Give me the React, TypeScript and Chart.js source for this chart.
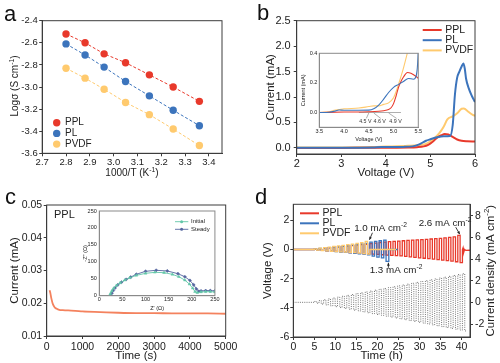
import React, { useEffect, useRef } from 'react';
import { Chart, registerables } from 'chart.js';
Chart.register(...registerables);

const FONT = "'Liberation Sans', Arial, sans-serif";
const INK = '#222';
const AXIS = '#3c3c3c';
const INSET_AXIS = '#8a8a8a';
const RED = '#E8392B';
const BLUE = '#3C74BC';
const YELLOW = '#FFCA6E';
const SERIES = ['PPL', 'PL', 'PVDF'];
const SERIES_COLORS = [RED, BLUE, YELLOW];

// ---------- panel a ----------
const aInvT = [2.80, 2.88, 2.96, 3.05, 3.15, 3.25, 3.36];
const aPPL = [-2.52, -2.60, -2.70, -2.78, -2.89, -3.00, -3.13];
const aPL = [-2.61, -2.71, -2.82, -2.95, -3.08, -3.21, -3.35];
const aPVDF = [-2.83, -2.92, -3.02, -3.14, -3.25, -3.38, -3.53];
const aXTicks = [2.7, 2.8, 2.9, 3.0, 3.1, 3.2, 3.3, 3.4];
const aYTicks = [-3.6, -3.4, -3.2, -3.0, -2.8, -2.6, -2.4];

// ---------- panel b ----------
const bPPL = [[2, 0.0], [3, 0.0], [3.5, 0.002], [4.0, 0.004], [4.5, 0.008], [4.7, 0.015], [4.85, 0.03], [4.95, 0.06], [5.05, 0.12], [5.15, 0.2], [5.25, 0.25], [5.32, 0.275], [5.4, 0.262], [5.5, 0.215], [5.6, 0.165], [5.7, 0.14], [5.82, 0.13], [6.0, 0.125]];
const bPL = [[2, 0.004], [3, 0.004], [3.7, 0.008], [3.9, 0.018], [4.4, 0.02], [4.6, 0.03], [4.75, 0.07], [4.9, 0.14], [5.0, 0.17], [5.15, 0.21], [5.3, 0.23], [5.44, 0.235], [5.5, 0.45], [5.55, 1.05], [5.6, 1.38], [5.65, 1.5], [5.7, 1.6], [5.74, 1.66], [5.77, 1.56], [5.8, 1.36], [5.86, 1.17], [5.93, 1.02], [6.0, 0.9]];
const bPVDF = [[2, 0.01], [3, 0.01], [3.5, 0.012], [3.8, 0.02], [4.0, 0.025], [4.5, 0.04], [4.8, 0.06], [4.9, 0.08], [5.0, 0.13], [5.1, 0.2], [5.2, 0.29], [5.3, 0.42], [5.38, 0.56], [5.5, 0.62], [5.6, 0.68], [5.7, 0.77], [5.75, 0.775], [5.85, 0.71], [5.95, 0.65], [6.0, 0.63]];
const bXTicks = [2, 3, 4, 5, 6];
const bYTicks = [0, 0.5, 1.0, 1.5, 2.0, 2.5];
// inset (zoom of onset region)
const biPPL = [[3.5, 0], [4.0, 0.003], [4.5, 0.005], [4.7, 0.008], [4.8, 0.012], [4.9, 0.02], [4.95, 0.032], [5.0, 0.06], [5.05, 0.11], [5.1, 0.17], [5.15, 0.21], [5.2, 0.24], [5.28, 0.27], [5.35, 0.265], [5.45, 0.245], [5.5, 0.23]];
const biPL = [[3.5, 0], [3.7, 0.002], [3.8, 0.008], [3.9, 0.017], [4.0, 0.015], [4.3, 0.015], [4.5, 0.016], [4.6, 0.025], [4.7, 0.05], [4.8, 0.09], [4.9, 0.135], [5.0, 0.17], [5.1, 0.19], [5.2, 0.21], [5.3, 0.23], [5.4, 0.225], [5.45, 0.24], [5.48, 0.3], [5.5, 0.42]];
const biPVDF = [[3.5, 0], [3.7, 0.005], [3.8, 0.015], [3.9, 0.02], [4.0, 0.025], [4.3, 0.03], [4.5, 0.04], [4.6, 0.045], [4.7, 0.045], [4.8, 0.055], [4.9, 0.065], [5.0, 0.1], [5.05, 0.14], [5.1, 0.19], [5.2, 0.3], [5.3, 0.43]];
const biZeroLine = [[4.3, 0], [5.15, 0]];
const biOnsetV = [4.5, 4.6, 4.9];
const biOnsetLabels = ['4.5 V', '4.6 V', '4.9 V'];
const biXTicks = [3.5, 4.0, 4.5, 5.0, 5.5];
const biYTicks = [0.0, 0.2, 0.4];

// ---------- panel c ----------
const cTime = [80, 100, 130, 170, 220, 280, 350, 450, 600, 800, 1000, 1500, 2000, 2500, 3000, 3500, 4000, 4500, 5000];
const cCurrent = [0.0240, 0.0232, 0.0215, 0.0198, 0.0188, 0.0183, 0.0180, 0.0179, 0.0178, 0.0177, 0.0175, 0.0173, 0.0171, 0.0170, 0.0170, 0.0169, 0.0169, 0.0169, 0.0168];
const cXTicks = [0, 1000, 2000, 3000, 4000, 5000];
const cYTicks = [0.01, 0.02, 0.03, 0.04, 0.05];
const ciInitial = [[22, 0], [24, 6], [27, 14], [31, 22], [37, 30], [45, 38], [55, 46], [66, 53], [80, 60], [100, 66], [120, 69], [140, 68], [158, 63], [172, 56], [185, 46], [195, 34], [202, 22], [207, 12], [212, 9], [220, 11], [230, 12], [240, 12], [250, 11]];
const ciSteady = [[25, 0], [27, 7], [30, 15], [34, 23], [40, 32], [48, 40], [58, 48], [68, 55], [80, 63], [100, 72], [123, 75], [147, 73], [170, 65], [185, 56], [196, 45], [204, 32], [210, 20], [215, 13], [220, 14], [230, 15], [240, 15], [250, 14]];
const ciTicks = [0, 50, 100, 150, 200, 250];

// ---------- panel d ----------
const dCycleStart = [5.0, 6.1, 7.2, 8.3, 9.4, 10.5, 11.6, 12.7, 13.8, 14.9, 16.0, 17.1, 18.2, 19.3, 20.4, 21.5, 22.6, 23.7, 24.8, 25.9, 27.0, 28.1, 29.2, 30.3, 31.4, 32.5, 33.6, 34.7, 35.8, 36.9, 38.0, 39.1, 40.2];
const dCurrentStep = [0.08, 0.16, 0.24, 0.32, 0.40, 0.48, 0.56, 0.64, 0.72, 0.80, 0.88, 0.96, 1.04, 1.12, 1.20, 1.28, 1.36, 1.44, 1.52, 1.60, 1.68, 1.76, 1.84, 1.92, 2.00, 2.08, 2.16, 2.24, 2.32, 2.40, 2.48, 2.56, 2.64];
const dPPLTop = [0.03, 0.06, 0.09, 0.12, 0.15, 0.18, 0.21, 0.24, 0.27, 0.30, 0.33, 0.36, 0.40, 0.44, 0.48, 0.51, 0.54, 0.56, 0.58, 0.60, 0.62, 0.64, 0.66, 0.68, 0.70, 0.72, 0.74, 0.77, 0.80, 0.83, 0.86, 0.97];
const dPPLBottom = [-0.03, -0.06, -0.09, -0.11, -0.13, -0.15, -0.18, -0.21, -0.24, -0.26, -0.28, -0.30, -0.32, -0.34, -0.36, -0.38, -0.40, -0.42, -0.44, -0.47, -0.50, -0.54, -0.57, -0.60, -0.63, -0.66, -0.70, -0.73, -0.76, -0.80, -0.84, -0.90];
const dPPLTail = [[40.2, 0.0], [40.35, 0.12], [40.5, -0.2], [40.7, 0.0], [41.0, -0.06], [42, -0.05]];
const dPLTop = [0.04, 0.07, 0.10, 0.13, 0.16, 0.19, 0.22, 0.26, 0.30, 0.34, 0.38, 0.42, 0.50, 0.56, 0.60, 0.64];
const dPLBottom = [-0.03, -0.06, -0.09, -0.12, -0.14, -0.17, -0.20, -0.23, -0.26, -0.29, -0.32, -0.36, -0.45, -0.52, -0.58, -0.82];
const dPLTail = [[22.7, 0.0], [24.8, 0.0]];
const dPVDFTop = [0.05, 0.09, 0.13, 0.17, 0.21, 0.25, 0.29, 0.33, 0.37, 0.42, 0.47, 0.56];
const dPVDFBottom = [-0.04, -0.07, -0.10, -0.12, -0.14, -0.16, -0.18, -0.20, -0.22, -0.25, -0.28, -0.32];
const dPVDFTail = [[18.2, 0.0], [24.4, 0.0]];
const dLead = [[0, 0], [5.0, 0]];
const dHalfCycle = 0.55;
const dXTicks = [0, 5, 10, 15, 20, 25, 30, 35, 40];
const dYTicks = [-6, -4, -2, 0, 2];
const dY1Ticks = [-2, 0, 2, 4, 6, 8];

// ---------- helpers ----------
const pts = (arr: number[][]) => arr.map(([x, y]) => ({ x, y }));

function squareWave(starts: number[], tops: number[], bottoms: number[], half: number, lead: number[][], tail: number[][]) {
  const out = pts(lead);
  for (let k = 0; k < tops.length; k++) {
    const t = starts[k];
    out.push({ x: t, y: tops[k] }, { x: t + half, y: tops[k] }, { x: t + half, y: bottoms[k] }, { x: t + 2 * half, y: bottoms[k] });
  }
  return out.concat(pts(tail));
}

type AxisOpt = {
  position: 'left' | 'right' | 'bottom';
  min: number; max: number; ticks: number[]; fmt: (v: number) => string;
  size: number; font: number; tl: number; pad: number; color?: string;
  title?: string; titleFont?: number; titlePad?: number;
};
function axis(o: AxisOpt) {
  const col = o.color || AXIS;
  return {
    type: 'linear', position: o.position, min: o.min, max: o.max,
    afterBuildTicks: (s: any) => { s.ticks = o.ticks.map((v) => ({ value: v })); },
    afterFit: (s: any) => { if (o.position === 'bottom') s.height = o.size; else s.width = o.size; },
    grid: { display: true, drawOnChartArea: false, drawTicks: o.tl > 0, tickLength: o.tl, color: col, lineWidth: 1 },
    border: { display: true, color: col, width: 1 },
    ticks: { padding: o.pad, autoSkip: false, maxRotation: 0, color: INK, font: { family: FONT, size: o.font }, callback: (v: any) => o.fmt(Number(v)) },
    title: o.title ? { display: true, text: o.title, color: INK, font: { family: FONT, size: o.titleFont }, padding: { top: o.titlePad, bottom: o.titlePad } } : { display: false },
  };
}

function frame(color: string) {
  return {
    id: 'frame',
    afterDraw(chart: any) {
      const { ctx, chartArea: { left, top, right, bottom } } = chart;
      ctx.save(); ctx.strokeStyle = color; ctx.lineWidth = 1;
      ctx.strokeRect(left, top, right - left, bottom - top); ctx.restore();
    },
  };
}

type Part = { t: string; sup?: boolean };
function drawRich(ctx: CanvasRenderingContext2D, parts: Part[], x: number, y: number, size: number, rot = 0, align = 'center', color = INK) {
  ctx.save(); ctx.translate(x, y); ctx.rotate(rot); ctx.textBaseline = 'middle'; ctx.textAlign = 'left'; ctx.fillStyle = color;
  let w = 0;
  for (const p of parts) { ctx.font = `${p.sup ? size * 0.68 : size}px ${FONT}`; w += ctx.measureText(p.t).width; }
  let cx = align === 'center' ? -w / 2 : align === 'left' ? 0 : -w;
  for (const p of parts) {
    ctx.font = `${p.sup ? size * 0.68 : size}px ${FONT}`;
    ctx.fillText(p.t, cx, p.sup ? -size * 0.33 : 0);
    cx += ctx.measureText(p.t).width;
  }
  ctx.restore();
}

function text(ctx: CanvasRenderingContext2D, s: string, x: number, y: number, size: number, align: CanvasTextAlign = 'left', base: CanvasTextBaseline = 'middle', color = INK) {
  ctx.save(); ctx.font = `${size}px ${FONT}`; ctx.fillStyle = color; ctx.textAlign = align; ctx.textBaseline = base; ctx.fillText(s, x, y); ctx.restore();
}

function arrow(ctx: CanvasRenderingContext2D, x1: number, y1: number, x2: number, y2: number, color = INK, head = 3.2, lw = 0.9) {
  ctx.save(); ctx.strokeStyle = color; ctx.fillStyle = color; ctx.lineWidth = lw;
  ctx.beginPath(); ctx.moveTo(x1, y1); ctx.lineTo(x2, y2); ctx.stroke();
  const a = Math.atan2(y2 - y1, x2 - x1);
  ctx.beginPath(); ctx.moveTo(x2, y2);
  ctx.lineTo(x2 - head * Math.cos(a - 0.45), y2 - head * Math.sin(a - 0.45));
  ctx.lineTo(x2 - head * Math.cos(a + 0.45), y2 - head * Math.sin(a + 0.45));
  ctx.closePath(); ctx.fill(); ctx.restore();
}

function lineLegend(ctx: CanvasRenderingContext2D, x: number, y0: number, dy: number, len: number, size: number, lw: number) {
  SERIES.forEach((name, i) => {
    const y = y0 + i * dy;
    ctx.save(); ctx.strokeStyle = SERIES_COLORS[i]; ctx.lineWidth = lw;
    ctx.beginPath(); ctx.moveTo(x, y); ctx.lineTo(x + len, y); ctx.stroke(); ctx.restore();
    text(ctx, name, x + len + 3.5, y, size);
  });
}

const baseOptions = (padding: any) => ({
  responsive: false, maintainAspectRatio: false, animation: false, devicePixelRatio: 1,
  layout: { padding },
  plugins: { legend: { display: false }, tooltip: { enabled: false } },
  elements: { point: { radius: 0 } },
});

// ---------- chart configs ----------
function makeA(): any {
  const sets = [aPPL, aPL, aPVDF];
  return {
    type: 'line',
    data: {
      datasets: sets.map((ys, i) => ({
        label: SERIES[i], data: aInvT.map((x, j) => ({ x, y: ys[j] })),
        borderColor: SERIES_COLORS[i], borderWidth: 1, borderDash: [3, 2],
        pointRadius: 3.7, pointBackgroundColor: SERIES_COLORS[i], pointBorderWidth: 0,
      })),
    },
    options: {
      ...baseOptions({ left: 0, top: 20.7, right: 28, bottom: 0 }),
      scales: {
        x: axis({ position: 'bottom', min: 2.7, max: 3.455, ticks: aXTicks, fmt: (v) => v.toFixed(1), size: 27.7, font: 9.5, tl: 3, pad: 0 }),
        y: axis({ position: 'left', min: -3.6, max: -2.4, ticks: aYTicks, fmt: (v) => v.toFixed(1), size: 42.2, font: 9.5, tl: 3, pad: 1.5 }),
      },
    },
    plugins: [frame(AXIS), {
      id: 'decoA',
      afterDraw(chart: any) {
        const ctx = chart.ctx;
        text(ctx, 'a', 4, 20.5, 22, 'left', 'alphabetic', '#111');
        drawRich(ctx, [{ t: 'Logσ (S cm' }, { t: '-1', sup: true }, { t: ')' }], 15, 86, 10, -Math.PI / 2);
        drawRich(ctx, [{ t: '1000/T (K' }, { t: '-1', sup: true }, { t: ')' }], 132, 173.5, 10);
        SERIES.forEach((name, i) => {
          const y = 122.7 + i * 10.7;
          ctx.save(); ctx.fillStyle = SERIES_COLORS[i]; ctx.beginPath(); ctx.arc(56.7, y, 3.7, 0, Math.PI * 2); ctx.fill(); ctx.restore();
          text(ctx, name, 65, y, 10);
        });
      },
    }],
  };
}

function makeB(): any {
  const sets = [bPPL, bPL, bPVDF];
  return {
    type: 'line',
    data: {
      datasets: sets.map((d, i) => ({
        label: SERIES[i], data: pts(d), borderColor: SERIES_COLORS[i], borderWidth: 2, cubicInterpolationMode: 'monotone', order: [1, 0, 2][i],
      })),
    },
    options: {
      ...baseOptions({ left: 0, top: 20.7, right: 25, bottom: 0 }),
      scales: {
        x: axis({ position: 'bottom', min: 2, max: 6, ticks: bXTicks, fmt: (v) => String(v), size: 27, font: 11, tl: 3, pad: 0, title: 'Voltage (V)', titleFont: 11.5, titlePad: 1.2 }),
        y: axis({ position: 'left', min: -0.12, max: 2.5, ticks: bYTicks, fmt: (v) => v.toFixed(1), size: 46.7, font: 11, tl: 3, pad: 3, title: 'Current (mA)', titleFont: 11.5, titlePad: 13.8 }),
      },
    },
    plugins: [frame(AXIS), {
      id: 'decoB',
      afterDraw(chart: any) {
        const ctx = chart.ctx;
        text(ctx, 'b', 7, 20, 22, 'left', 'alphabetic', '#111');
        lineLegend(ctx, 172.7, 30, 10.2, 19, 10.5, 2);
      },
    }],
  };
}

function makeBInset(): any {
  const sets = [biPPL, biPL, biPVDF];
  return {
    type: 'line',
    data: {
      datasets: [
        { label: 'zero', data: pts(biZeroLine), borderColor: '#9a9a9a', borderWidth: 0.8, order: 5 },
        ...sets.map((d, i) => ({ label: SERIES[i], data: pts(d), borderColor: SERIES_COLORS[i], borderWidth: 1.1, cubicInterpolationMode: 'monotone', order: [1, 0, 2][i] })),
      ],
    },
    options: {
      ...baseOptions({ left: 0, top: 8.3, right: 6.7, bottom: 0 }),
      scales: {
        x: axis({ position: 'bottom', min: 3.5, max: 5.5, ticks: biXTicks, fmt: (v) => v.toFixed(1), size: 17.7, font: 5.5, tl: 0, pad: 0.5, color: INSET_AXIS, title: 'Voltage (V)', titleFont: 5.5, titlePad: 2.7 }),
        y: axis({ position: 'left', min: -0.1, max: 0.4, ticks: biYTicks, fmt: (v) => v.toFixed(1), size: 24.3, font: 5.5, tl: 0, pad: 2, color: INSET_AXIS, title: 'Current (mA)', titleFont: 5.5, titlePad: 4.7 }),
      },
    },
    plugins: [frame(INSET_AXIS), {
      id: 'decoBi',
      afterDraw(chart: any) {
        const ctx = chart.ctx; const sx = chart.scales.x; const sy = chart.scales.y;
        const lx = [4.43, 4.72, 5.04];
        biOnsetV.forEach((v, i) => {
          const px = sx.getPixelForValue(lx[i]); const py = sy.getPixelForValue(-0.06);
          text(ctx, biOnsetLabels[i], px, py, 5.3, 'center', 'middle', '#333');
          ctx.save(); ctx.strokeStyle = '#777'; ctx.lineWidth = 0.6; ctx.beginPath();
          ctx.moveTo(px + 1, py - 3); ctx.lineTo(sx.getPixelForValue(v), sy.getPixelForValue(0) + 0.5); ctx.stroke(); ctx.restore();
        });
      },
    }],
  };
}

function makeC(): any {
  return {
    type: 'line',
    data: { datasets: [{ label: 'PPL', data: cTime.map((x, i) => ({ x, y: cCurrent[i] })), borderColor: '#F4825E', borderWidth: 1.8, cubicInterpolationMode: 'monotone' }] },
    options: {
      ...baseOptions({ left: 0, top: 24, right: 24.3, bottom: 0 }),
      scales: {
        x: axis({ position: 'bottom', min: 0, max: 5000, ticks: cXTicks, fmt: (v) => String(v), size: 27, font: 10.5, tl: 3, pad: 1.5, title: 'Time (s)', titleFont: 11.5, titlePad: 0 }),
        y: axis({ position: 'left', min: 0.01, max: 0.05, ticks: cYTicks, fmt: (v) => v.toFixed(2), size: 46.7, font: 10.5, tl: 3, pad: 1.5, title: 'Current (mA)', titleFont: 11.5, titlePad: 8.1 }),
      },
    },
    plugins: [frame(AXIS), {
      id: 'decoC',
      afterDraw(chart: any) {
        const ctx = chart.ctx;
        text(ctx, 'c', 5, 22.5, 22, 'left', 'alphabetic', '#111');
        text(ctx, 'PPL', 54, 34, 11);
      },
    }],
  };
}

function makeCInset(): any {
  const TEAL = '#62C6A8'; const SLATE = '#55659F';
  return {
    type: 'line',
    data: {
      datasets: [
        { label: 'Initial', data: pts(ciInitial), borderColor: TEAL, borderWidth: 0.9, pointRadius: 1.6, pointStyle: 'triangle', pointBackgroundColor: TEAL, pointBorderColor: TEAL, pointBorderWidth: 0.5 },
        { label: 'Steady', data: pts(ciSteady), borderColor: SLATE, borderWidth: 0.9, pointRadius: 1.6, pointStyle: 'rectRot', pointBackgroundColor: SLATE, pointBorderColor: SLATE, pointBorderWidth: 0.5 },
      ],
    },
    options: {
      ...baseOptions({ left: 0, top: 6, right: 4.3, bottom: 0 }),
      scales: {
        x: axis({ position: 'bottom', min: 0, max: 250, ticks: ciTicks, fmt: (v) => String(v), size: 17.3, font: 5.5, tl: 0, pad: 0.5, color: INSET_AXIS, title: "Z' (Ω)", titleFont: 5.5, titlePad: 1.4 }),
        y: axis({ position: 'left', min: 0, max: 250, ticks: ciTicks, fmt: (v) => String(v), size: 29.3, font: 5.5, tl: 0, pad: 2.5, color: INSET_AXIS, title: "-Z'' (Ω)", titleFont: 5.5, titlePad: 11.7 }),
      },
    },
    plugins: [frame(INSET_AXIS), {
      id: 'decoCi',
      afterDraw(chart: any) {
        const ctx = chart.ctx;
        const ds = chart.data.datasets;
        ds.forEach((d: any, i: number) => {
          const y = 16.7 + i * 7.6;
          ctx.save(); ctx.strokeStyle = d.borderColor; ctx.lineWidth = 0.9; ctx.beginPath(); ctx.moveTo(105, y); ctx.lineTo(118.3, y); ctx.stroke();
          ctx.fillStyle = d.borderColor; ctx.beginPath(); ctx.arc(111.6, y, 1.5, 0, Math.PI * 2); ctx.fill(); ctx.restore();
          text(ctx, d.label, 121, y, 6);
        });
      },
    }],
  };
}

function makeD(): any {
  const cur = squareWave(dCycleStart, dCurrentStep, dCurrentStep.map((v) => -v), dHalfCycle, dLead, []);
  const ppl = squareWave(dCycleStart, dPPLTop, dPPLBottom, dHalfCycle, dLead, dPPLTail);
  const pl = squareWave(dCycleStart, dPLTop, dPLBottom, dHalfCycle, dLead, dPLTail);
  const pvdf = squareWave(dCycleStart, dPVDFTop, dPVDFBottom, dHalfCycle, dLead, dPVDFTail);
  return {
    type: 'line',
    data: {
      datasets: [
        { label: 'PPL', data: ppl, borderColor: RED, borderWidth: 1.3, yAxisID: 'y', order: 2 },
        { label: 'PL', data: pl, borderColor: BLUE, borderWidth: 1.3, yAxisID: 'y', order: 1 },
        { label: 'PVDF', data: pvdf, borderColor: YELLOW, borderWidth: 1.3, yAxisID: 'y', order: 0 },
        { label: 'Current density', data: cur, borderColor: '#3a3a3a', borderWidth: 0.7, borderDash: [1, 1.2], yAxisID: 'y1', order: 3 },
      ],
    },
    options: {
      ...baseOptions({ left: 0, top: 23.3, right: 0, bottom: 0 }),
      scales: {
        x: axis({ position: 'bottom', min: 0, max: 42, ticks: dXTicks, fmt: (v) => String(v), size: 26, font: 10.5, tl: 3, pad: 0.5, title: 'Time (h)', titleFont: 11.5, titlePad: 0 }),
        y: axis({ position: 'left', min: -6, max: 3.1, ticks: dYTicks, fmt: (v) => String(v), size: 43.3, font: 10.5, tl: 3, pad: 1, title: 'Voltage (V)', titleFont: 11.5, titlePad: 10.7 }),
        y1: axis({ position: 'right', min: -3.2, max: 9.05, ticks: dY1Ticks, fmt: (v) => String(v), size: 30, font: 10.5, tl: 3, pad: 2 }),
      },
    },
    plugins: [frame(AXIS), {
      id: 'decoD',
      afterDraw(chart: any) {
        const ctx = chart.ctx; const sx = chart.scales.x; const sy = chart.scales.y;
        text(ctx, 'd', 5, 23, 22, 'left', 'alphabetic', '#111');
        drawRich(ctx, [{ t: 'Current density (mA cm' }, { t: '-2', sup: true }, { t: ')' }], 241, 89.7, 11.5, -Math.PI / 2);
        lineLegend(ctx, 50, 32.3, 10, 19, 10.5, 2);
        // annotations
        const p1x = sx.getPixelForValue(18.1), p1y = sy.getPixelForValue(0.6);
        drawRich(ctx, [{ t: '1.0 mA cm' }, { t: '-2', sup: true }], 130.5, 47, 9.8);
        arrow(ctx, p1x + 3, p1y - 8, p1x, p1y - 1);
        const p2x = sx.getPixelForValue(39.8), p2y = sy.getPixelForValue(0.98);
        drawRich(ctx, [{ t: '2.6 mA cm' }, { t: '-2', sup: true }], 195, 42.3, 9.8);
        arrow(ctx, p2x - 5, p2y - 8, p2x - 1, p2y - 1);
        const p3x = sx.getPixelForValue(22.6), p3y = sy.getPixelForValue(-0.84);
        drawRich(ctx, [{ t: '1.3 mA cm' }, { t: '-2', sup: true }], 146, 89.5, 9.8);
        arrow(ctx, p3x, p3y + 6, p3x, p3y + 1);
      },
    }],
  };
}

function Panel({ x, y, w, h, make }: { x: number; y: number; w: number; h: number; make: () => any }) {
  const ref = useRef<HTMLCanvasElement>(null);
  useEffect(() => {
    const chart = new Chart(ref.current as HTMLCanvasElement, make());
    return () => chart.destroy();
  }, []);
  return <canvas ref={ref} width={w} height={h} style={{ position: 'absolute', left: x, top: y, width: w, height: h }} />;
}

export default function App() {
  return (
    <div style={{ position: 'fixed', left: 0, top: 0, width: 500, height: 363, background: '#fff', overflow: 'hidden' }}>
      <Panel x={0} y={0} w={250} h={181} make={makeA} />
      <Panel x={250} y={0} w={250} h={181} make={makeB} />
      <Panel x={295} y={45} w={130} h={100} make={makeBInset} />
      <Panel x={0} y={181} w={250} h={182} make={makeC} />
      <Panel x={70} y={205} w={150} h={108} make={makeCInset} />
      <Panel x={250} y={181} w={250} h={182} make={makeD} />
    </div>
  );
}
